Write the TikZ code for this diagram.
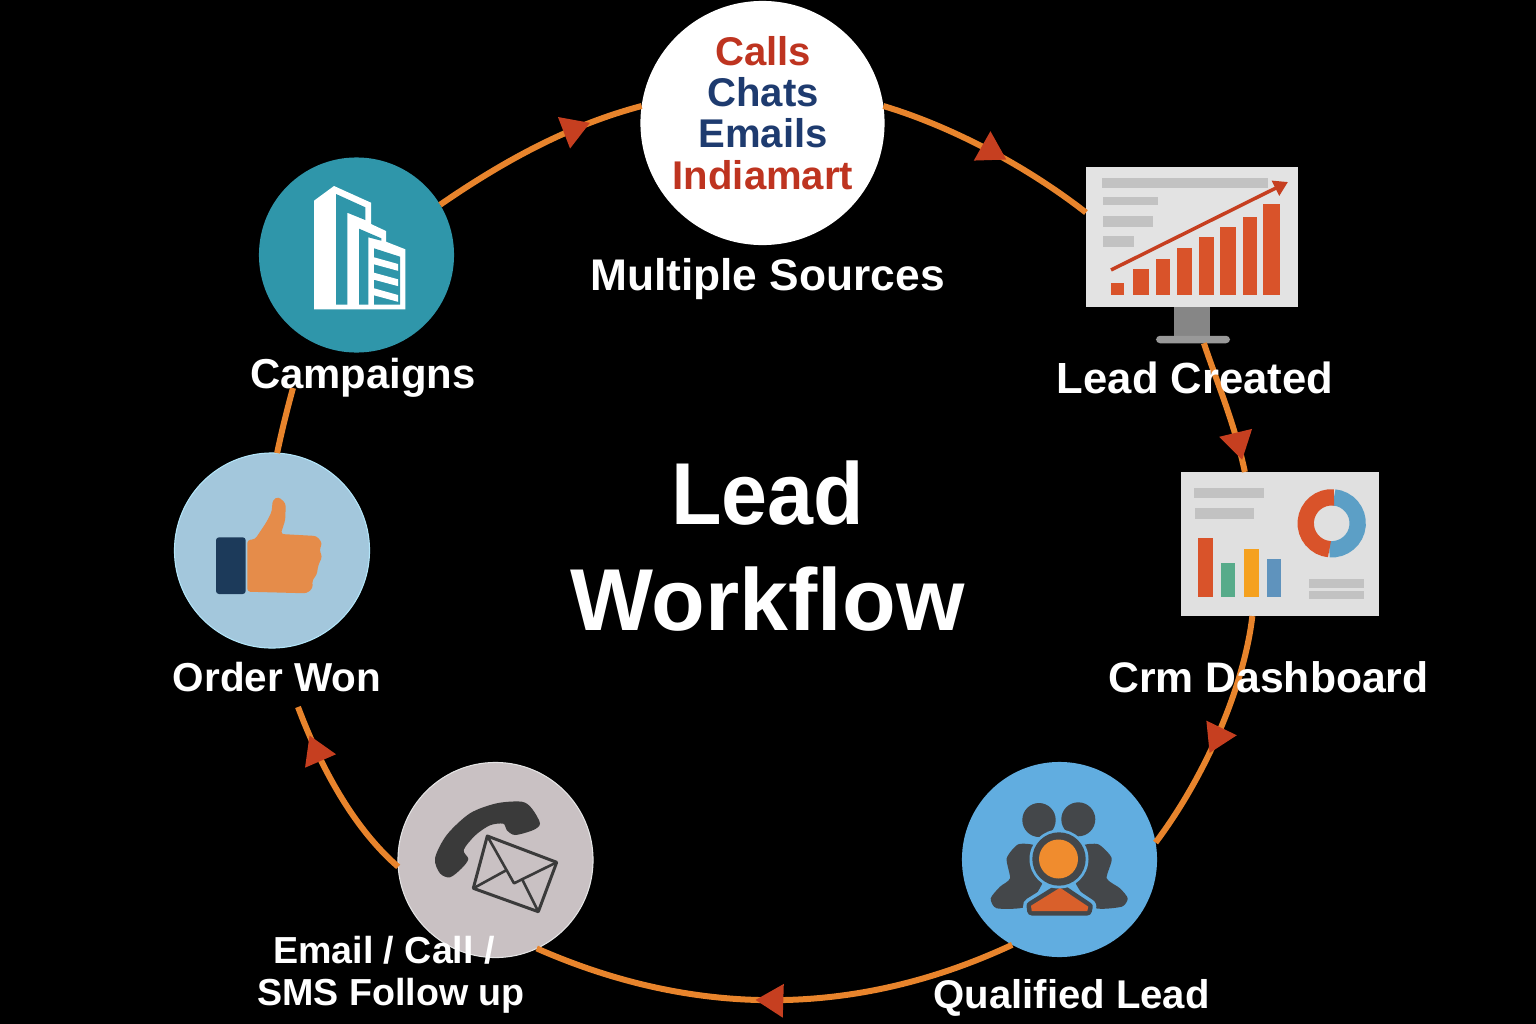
\documentclass[tikz,border=0pt]{standalone}
\usepackage{fontspec}
\setmainfont{Liberation Sans}
\usetikzlibrary{arrows.meta, decorations.markings}
\definecolor{linkorange}{HTML}{E8842C}
\definecolor{linkred}{HTML}{C63F20}
\definecolor{listred}{HTML}{BE3420}
\definecolor{listblue}{HTML}{1E3B6F}
\definecolor{panelgray}{HTML}{C2C2C2}
\definecolor{barred}{HTML}{D9532A}
\definecolor{bargreen}{HTML}{57AB8A}
\definecolor{baramber}{HTML}{F5A11F}
\definecolor{barblue}{HTML}{5F93BD}
\definecolor{ringblue}{HTML}{5C9FC6}
\definecolor{teal}{HTML}{2F96AA}
\definecolor{skyblue}{HTML}{61ADE0}
\definecolor{paleblue}{HTML}{A3C7DC}
\definecolor{palegray}{HTML}{C9C1C3}
\definecolor{cuffblue}{HTML}{1C3A5A}
\definecolor{handorange}{HTML}{E58C4A}
\definecolor{iconDark}{HTML}{3A3A3A}
\definecolor{peopleDark}{HTML}{44474A}
\definecolor{bodyred}{HTML}{D9602B}
\definecolor{headorange}{HTML}{F08C2E}
\tikzset{
    station/.style={circle, minimum size=1.95cm, inner sep=0pt, outer sep=0pt},
    panel/.style={rectangle, inner sep=0pt, outer sep=0pt},
    link/.style={draw=linkorange, line width=0.06cm},
    marked/.style={postaction={decorate}, decoration={markings, mark=at position #1 with {\arrow{Triangle[length=0.28cm, width=0.32cm, color=linkred]}}}},
    caption/.style={anchor=base, text=white, font=\bfseries\fontsize{12}{14}\selectfont, inner sep=0pt},
}

\begin{document}
\begin{tikzpicture}[x=0.01cm, y=-0.01cm]
        \fill[black] (0,0) rectangle (1536,1024);
        \useasboundingbox (0,0) rectangle (1536,1024);

        \node[station, fill=white, minimum size=2.44cm] (sources) at (762.5,123) {};
        \node[station, fill=teal] (campaigns) at (356.5,255) {};
        \node[station, fill=paleblue, draw=white!70!cyan, line width=0.3pt] (order) at (272,550.5) {};
        \node[station, fill=palegray, draw=white!80!gray, line width=0.3pt] (email) at (495.5,860) {};
        \node[station, fill=skyblue] (qualified) at (1059.5,859.5) {};
        \node[panel, fill=black!11, minimum width=2.12cm, minimum height=1.40cm] (created) at (1192,237) {};
        \node[panel, fill=black!12, minimum width=1.98cm, minimum height=1.44cm] (crm) at (1280,544) {};
        \fill[gray!95] (1174.3,307) rectangle (1210,336);
        \node[panel, fill=gray!80, minimum width=0.74cm, minimum height=0.075cm, rounded corners=0.04cm] (base) at (1193,339.5) {};

        \coordinate (orderEnd) at (298,707);
        \coordinate (campaignsEnd) at (293,388);

        \draw[link, marked=0.76] (campaigns.31) .. controls (505,160) and (570,125) .. (sources.172);
        \draw[link, marked=0.585] (sources.8) .. controls (950,126) and (1025,165) .. (created.167);
        \draw[link, marked=0.91] (base.-19) .. controls (1218,385) and (1235,425) .. (crm.116);
        \draw[link, marked=0.58] (crm.-111) .. controls (1245,680) and (1210,770) .. (qualified.10);
        \draw[link, marked=0.54] (qualified.-119) .. controls (855,1018) and (695,1018) .. (email.-65);
        \draw[link, marked=0.84] (email.184) .. controls (350,825) and (318,760) .. (orderEnd);
        \draw[link] (order.87) .. controls (282,430) and (287,410) .. (campaignsEnd);

        % monitor
        \foreach \xa/\ya/\xb/\yb in {1102.3/178.3/1268.3/187.7, 1102.7/196.7/1158.3/205, 1103.3/216/1152.7/226.7, 1103.3/236/1134.3/246.7}
            \fill[panelgray] (\xa,\ya) rectangle (\xb,\yb);
        \foreach \xa/\xb/\ytop in {1111/1124.3/282.7, 1133.3/1149/269, 1156/1170/259, 1176.7/1192/247.7, 1199.3/1214/236.7, 1220.3/1235.7/226.7, 1242.7/1256.7/216.7, 1263/1280/204.3}
            \fill[barred] (\xa,295) rectangle (\xb,\ytop);
        \draw[-{Triangle[length=0.14cm, width=0.16cm]}, linkred, line width=0.035cm] (1111,270) -- (1288,182);

        % dashboard
        \foreach \xa/\ya/\xb/\yb in {1194/488.3/1264/497.7, 1194.7/508.3/1253.7/518.7, 1309/578.7/1364.3/587.7, 1309.3/590.7/1363.7/599}
            \fill[panelgray] (\xa,\ya) rectangle (\xb,\yb);
        \fill[barred] (1198.3,597.3) rectangle (1212.7,538.3);
        \fill[bargreen] (1221.3,597.3) rectangle (1235,562.7);
        \fill[baramber] (1244,597.3) rectangle (1258.7,549);
        \fill[barblue] (1267,597.3) rectangle (1281.3,559);
        \draw[line width=0.163cm, color=ringblue] (1331.7,523.3) ++(-85:26) arc (-85:95:26);
        \draw[line width=0.163cm, color=barred] (1331.7,523.3) ++(95:26) arc (95:275:26);

        % building
        \fill[white] (314,309.3) -- (314,200.7) -- (334,186) -- (371,202.7) -- (371,224) -- (386,231) -- (386,241.7) -- (405.3,249.3) -- (405.3,309.3) -- cycle;
        \fill[teal] (336,194) -- (365.3,207.3) -- (365.3,220) -- (347.3,212.7) -- (347.3,304.7) -- (336,304.7) -- cycle;
        \fill[teal] (359,228.7) -- (381.3,238.3) -- (381.3,240.7) -- (368.3,237.3) -- (368.3,304.7) -- (359,304.7) -- cycle;
        \fill[teal] (374,248.3) -- (400,256.7) -- (400,304.7) -- (374,304.7) -- cycle;
        \foreach \ya/\yb in {257.3/264, 272.7/279.3, 288.3/295}
            \fill[white] (374,\ya) -- (398,\yb) -- (398,\yb+6.8) -- (374,\ya+7) -- cycle;

        % thumb
        \fill[rounded corners=0.03cm, fill=cuffblue] (216,537.3) rectangle (245.7,594);
        \fill[rounded corners=0.03cm, fill=handorange] (247.3,540) -- (255,539.3) -- (266.7,521.7) -- (271.7,511.7) -- (272.7,500) -- (278.3,496.7) -- (285.7,503.3) -- (285.3,520) -- (280.7,534) -- (316.7,536) -- (322.3,543.3) -- (319.3,550) -- (322.3,556.7) -- (318.3,565) -- (316.7,575) -- (312.3,580) -- (312.7,588.3) -- (306.7,593.3) -- (247.3,591.7) -- cycle;

        % phone and envelope
        \fill[iconDark] plot[smooth cycle, tension=0.5] coordinates {(435,858.3) (446.7,835) (470,813.3) (496.7,803.3) (521.7,801.7) (531.7,808.3) (540,823.3) (533.3,830) (515,835) (506.7,830) (503.3,823.7) (490,825.3) (475.3,835.3) (463.7,850) (468.3,859) (461.7,868.3) (450,877.3) (440,873.3)};
        \draw[iconDark, line width=0.03cm, line join=round] (487.3,836) -- (556.7,862.3) -- (538.3,911.7) -- (473.3,888.3) -- cycle;
        \draw[iconDark, line width=0.026cm, line join=round] (487.3,836) -- (514,883.3) -- (556.7,862.3);
        \draw[iconDark, line width=0.026cm] (473.3,888.3) -- (506.7,870);
        \draw[iconDark, line width=0.026cm] (538.3,911.7) -- (521.7,878.3);

        % people
        \fill[peopleDark] (1039,820) ellipse (16.7 and 17);
        \fill[peopleDark] (1078.3,819.3) ellipse (17 and 17);
        \fill[peopleDark] plot[smooth cycle, tension=0.4] coordinates {(1018.3,844.3) (1036,846) (1036,862) (1040,875) (1042,884) (1026,906.7) (996.7,908.3) (990.7,898.3) (1000,886.7) (1010,878.3) (1006.7,858.3)};
        \fill[peopleDark] plot[smooth cycle, tension=0.4] coordinates {(1098.3,844.3) (1082,846) (1082,862) (1078,875) (1076,884) (1094,907.7) (1121.7,906.7) (1127.7,898.3) (1120,888.3) (1106.7,878.3) (1111.7,858.3)};
        \draw[skyblue, line width=0.16cm, line join=round] (1060,887.7) -- (1088.3,906.7) -- (1087.3,911) -- (1031.7,911) -- (1031,905.7) -- cycle;
        \draw[peopleDark, line width=0.09cm, line join=round] (1060,887.7) -- (1088.3,906.7) -- (1087.3,911) -- (1031.7,911) -- (1031,905.7) -- cycle;
        \fill[bodyred] (1060,887.7) -- (1088.3,906.7) -- (1087.3,911) -- (1031.7,911) -- (1031,905.7) -- cycle;
        \fill[skyblue] (1059,859) circle (29.5);
        \fill[peopleDark] (1059,859) circle (26.7);
        \fill[headorange] (1058.5,859) circle (19.5);

        \node[caption, font=\bfseries\fontsize{11.4}{11.7}\selectfont, align=center, text=listblue] (sourceList) at (763,189) {\textcolor{listred}{Calls}\\Chats\\Emails\\\textcolor{listred}{Indiamart}};
        \node[caption, font=\bfseries\fontsize{12.6}{15}\selectfont] (sourcesLabel) at (767.5,290) {Multiple Sources};
        \node[caption, font=\bfseries\fontsize{11.9}{14}\selectfont] (campaignsLabel) at (363,388) {Campaigns};
        \node[caption, font=\bfseries\fontsize{12.4}{14}\selectfont] (createdLabel) at (1195,393) {Lead Created};
        \node[caption, font=\bfseries\fontsize{12.15}{14}\selectfont] (crmLabel) at (1268.5,692.7) {Crm Dashboard};
        \node[caption, font=\bfseries\fontsize{11.5}{14}\selectfont] (orderLabel) at (277,691) {Order Won};
        \node[caption, font=\bfseries\fontsize{10.7}{11.7}\selectfont, align=center] (emailLabel) at (391,1005) {Email / Call /\hspace*{4pt}\\SMS Follow up};
        \node[caption, font=\bfseries\fontsize{11.4}{14}\selectfont] (qualifiedLabel) at (1071.5,1008) {Qualified Lead};
        \node[caption, font=\bfseries\fontsize{25}{29.9}\selectfont, align=center] (title) at (767.5,630) {\scalebox{0.94}[1]{Lead}\\Workflow};
    \end{tikzpicture}
\end{document}
